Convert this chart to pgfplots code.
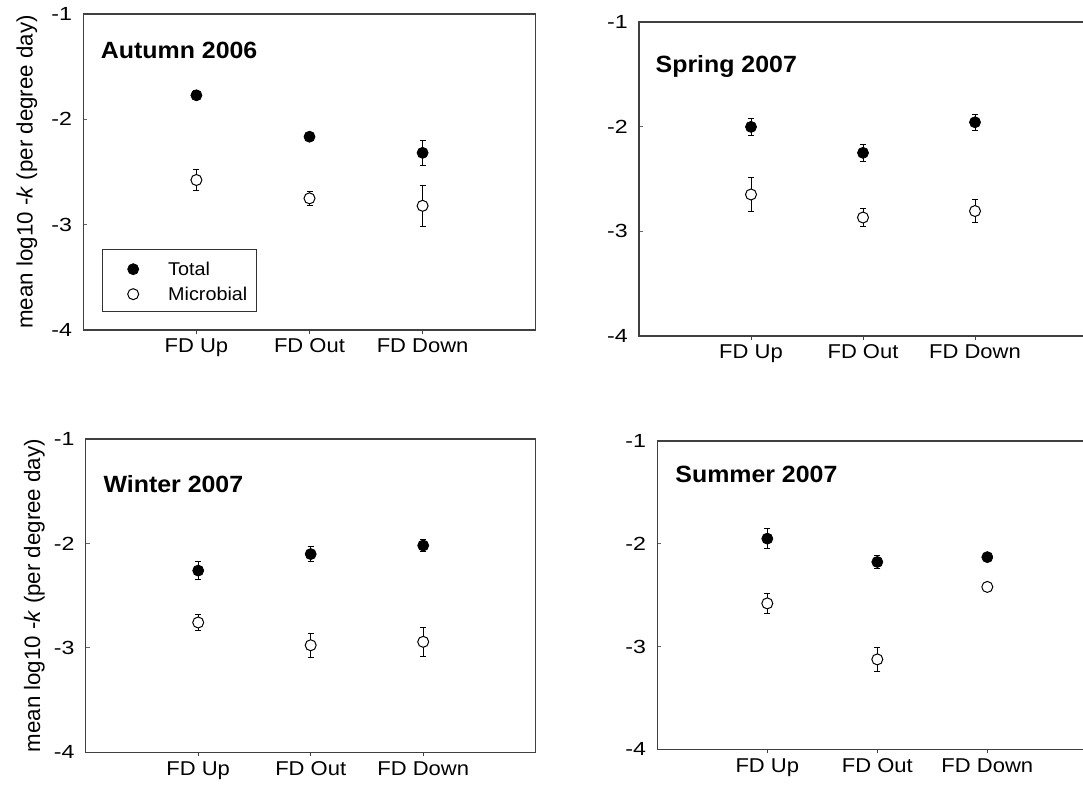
\documentclass[border=0pt]{standalone}
\usepackage{fontspec}
\setmainfont{Liberation Sans}
\usepackage{graphicx}
\usepackage{pgfplots}
\pgfplotsset{compat=1.18}
\tikzset{ttl/.style={anchor=base west, font=\bfseries\fontsize{23.5}{28}\selectfont, inner sep=0pt}}
\newcommand{\sx}[1]{\scalebox{1.1}[1]{#1}}
\newcommand{\sy}[1]{\scalebox{1.22}[1]{#1}}
\pgfplotsset{
  panel/.style={
    scale only axis,
    anchor=south west,
    xmin=0, xmax=4, ymin=-4, ymax=-1,
    xtick={1,2,3}, xticklabels={\sx{FD Up},\sx{FD Out},\sx{FD Down}},
    ytick={-4,-3,-2,-1}, yticklabels={\sy{-4},\sy{-3},\sy{-2},\sy{-1}},
    xtick pos=bottom, ytick pos=left,
    tick align=inside, major tick length=4pt,
    xtick style={black!75, line width=1pt, yshift=-4pt},
    ytick style={black!60, line width=0.8pt},
    axis line style={black!75, line width=1.2pt},
    xticklabel style={font=\fontsize{20}{24}\selectfont, inner sep=0pt, anchor=base, yshift=-23pt},
    yticklabel style={font=\fontsize{19}{23}\selectfont, inner sep=0pt, anchor=east, xshift=-11pt},
    every axis y label/.style={rotate=90, anchor=center, font=\fontsize{22.3}{26}\selectfont},
    clip=false,
  },
  total/.style={only marks, mark=*, mark size=5.5pt, mark options={fill=black, draw=black, line width=0.8pt},
    error bars/.cd, y dir=both, y explicit,
    error bar style={black, line width=0.9pt},
    error mark options={black, line width=0.9pt, mark size=3pt, rotate=90}},
  micro/.style={only marks, mark=*, mark size=5.5pt, mark options={fill=white, draw=black, line width=1pt},
    error bars/.cd, y dir=both, y explicit,
    error bar style={black, line width=0.9pt},
    error mark options={black, line width=0.9pt, mark size=3pt, rotate=90}},
}
\begin{document}
\begin{tikzpicture}[x=1pt,y=1pt]
\useasboundingbox (0pt,0pt) rectangle (1083pt,790pt);
\clip (0pt,0pt) rectangle (1083pt,790pt);

% Autumn 2006
\begin{axis}[panel, at={(83.3pt,460pt)}, width=452.4pt, height=316pt,
  ylabel={mean log10 -\textit{k} (per degree day)},
  every axis y label/.append style={at={(axis description cs:-0.1245,0.5)}},
  legend style={at={(axis description cs:0.0407,0.057)}, anchor=south west,
    draw=black!80, line width=1pt, fill=white,
    font=\fontsize{18.5}{22}\selectfont,
    inner xsep=9.5pt, inner ysep=6pt, row sep=0pt,
    nodes={inner sep=0pt, text depth=0pt}},
  legend cell align=left,
  legend image code/.code={\path[draw=none, fill=none] (-21.5pt,-11.3pt) rectangle (35pt,13.7pt);
    \draw[#1] plot coordinates {(0pt,0pt)};},
]
\addplot[total] table[x=x, y=y, y error=e, row sep=\\] {x y e \\ 1 -1.772 0.044 \\ 2 -2.165 0.025 \\ 3 -2.318 0.122 \\};
\addlegendentry{\scalebox{1.07}[1]{Total}}
\addplot[micro] table[x=x, y=y, y error=e, row sep=\\] {x y e \\ 1 -2.576 0.101 \\ 2 -2.750 0.063 \\ 3 -2.821 0.198 \\};
\addlegendentry{\scalebox{1.07}[1]{Microbial}}
\node[ttl] at (axis description cs:0.0385,0.86) {\scalebox{1.06}[1]{Autumn 2006}};
\end{axis}

% Spring 2007
\begin{axis}[panel, at={(639pt,454pt)}, width=448pt, height=314pt]
\addplot[total] table[x=x, y=y, y error=e, row sep=\\] {x y e \\ 1 -2.002 0.080 \\ 2 -2.250 0.083 \\ 3 -1.958 0.076 \\};
\addplot[micro] table[x=x, y=y, y error=e, row sep=\\] {x y e \\ 1 -2.648 0.160 \\ 2 -2.868 0.086 \\ 3 -2.806 0.113 \\};
\node[ttl] at (axis description cs:0.0368,0.8385) {\scalebox{1.06}[1]{Spring 2007}};
\end{axis}

% Winter 2007
\begin{axis}[panel, at={(85.7pt,37.7pt)}, width=450pt, height=313.3pt,
  ylabel={mean log10 -\textit{k} (per degree day)},
  every axis y label/.append style={at={(axis description cs:-0.114,0.5)}},
]
\addplot[total] table[x=x, y=y, y error=e, row sep=\\] {x y e \\ 1 -2.260 0.089 \\ 2 -2.102 0.072 \\ 3 -2.020 0.059 \\};
\addplot[micro] table[x=x, y=y, y error=e, row sep=\\] {x y e \\ 1 -2.757 0.080 \\ 2 -2.975 0.117 \\ 3 -2.942 0.136 \\};
\node[ttl] at (axis description cs:0.0393,0.8286) {\scalebox{1.06}[1]{Winter 2007}};
\end{axis}

% Summer 2007
\begin{axis}[panel, at={(657.3pt,40.7pt)}, width=440pt, height=308.3pt]
\addplot[total] table[x=x, y=y, y error=e, row sep=\\] {x y e \\ 1 -1.950 0.100 \\ 2 -2.177 0.068 \\ 3 -2.130 0.030 \\};
\addplot[micro] table[x=x, y=y, y error=e, row sep=\\] {x y e \\ 1 -2.580 0.099 \\ 2 -3.125 0.114 \\ 3 -2.420 0.030 \\};
\node[ttl] at (axis description cs:0.0407,0.8647) {\scalebox{1.06}[1]{Summer 2007}};
\end{axis}
\end{tikzpicture}
\end{document}
